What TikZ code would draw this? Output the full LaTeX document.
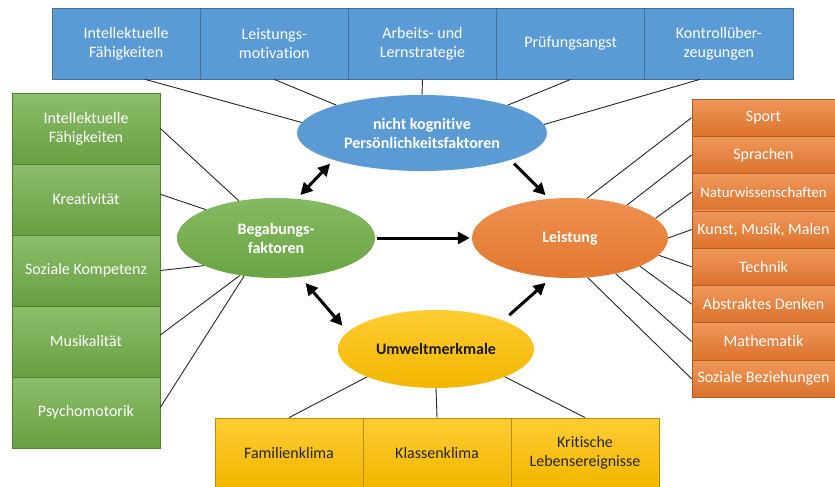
\documentclass[tikz,border=0pt]{standalone}
\usepackage{fontspec}
\setmainfont{Carlito}[Ligatures=NoCommon]
\usetikzlibrary{arrows.meta,shapes.geometric,positioning}

\definecolor{ppblue}{HTML}{5B9BD5}
\definecolor{ppblueline}{HTML}{41719C}
\definecolor{ppgreen}{HTML}{70AD47}
\definecolor{ppgreenline}{HTML}{507E32}
\definecolor{pporange}{HTML}{ED7D31}
\definecolor{pporangeline}{HTML}{AE5A21}
\definecolor{ppyellow}{HTML}{FFC000}
\definecolor{ppyellowline}{HTML}{BC8C00}

\tikzset{
  cell/.style={rectangle, line width=0.8pt, text=white, align=center, inner sep=1pt,
    font=\fontsize{16}{19}\selectfont},
  bluebox/.style={cell, draw=ppblueline, fill=ppblue, minimum width=148.2pt, minimum height=71pt},
  greenbox/.style={cell, draw=ppgreenline, top color=ppgreen!80!white, bottom color=ppgreen!92!black,
    minimum width=148pt, minimum height=71pt},
  orangebox/.style={cell, draw=pporangeline, top color=pporange!80!white, bottom color=pporange!92!black,
    minimum width=143pt, minimum height=37.3pt},
  yellowbox/.style={cell, draw=ppyellowline, text=black!85, top color=ppyellow!80!white,
    bottom color=ppyellow!95!black, minimum width=148pt, minimum height=69pt},
  factor/.style={ellipse, inner sep=0pt, align=center, text=white,
    font=\bfseries\fontsize{16}{19}\selectfont},
  link/.style={line width=0.9pt, black!85},
  bigarrow/.style={line width=3pt, shorten <=#1, shorten >=#1},
  bigarrow/.default=5pt
}

\begin{document}
\begin{tikzpicture}[x=1pt, y=-1pt, >={Triangle[length=12pt,width=12pt]}]

\useasboundingbox[fill=white] (0,0) rectangle (835,487);

% Faktoren in der Mitte
\node[factor, fill=ppblue, minimum width=250pt, minimum height=76pt] (nk) at (422,133)
  {nicht kognitive\\Persönlichkeitsfaktoren};
\node[factor, top color=ppgreen!85!white, bottom color=ppgreen!95!black,
  minimum width=198pt, minimum height=80pt] (bg) at (276,238) {Begabungs-\\faktoren};
\node[factor, top color=pporange!85!white, bottom color=pporange!95!black,
  minimum width=196pt, minimum height=80pt] (le) at (570,238) {Leistung};
\node[factor, text=black!90, top color=ppyellow!80!white, bottom color=ppyellow!95!black,
  minimum width=196pt, minimum height=78pt] (um) at (436,349) {Umweltmerkmale};

% oben: nicht kognitive Faktoren
\foreach \txt [count=\i] in {{Intellektuelle\\Fähigkeiten}, {Leistungs-\\motivation},
    {Arbeits- und\\Lernstrategie}, {Prüfungsangst}, {Kontrollüber-\\zeugungen}}
  \node[bluebox] (t\i) at ({126.1+148.2*(\i-1)}, 43.5) {\txt};

% links: Begabung
\foreach \txt [count=\i] in {{Intellektuelle\\Fähigkeiten}, {Kreativität},
    {Soziale Kompetenz}, {Musikalität}, {Psychomotorik}}
  \node[greenbox] (l\i) at (86, {128.5+71*(\i-1)}) {\txt};

% rechts: Leistungsbereiche
\foreach \txt [count=\i] in {{Sport}, {Sprachen},
    {\fontsize{14.8}{17}\selectfont Naturwissenschaften}, {Kunst, Musik, Malen},
    {Technik}, {Abstraktes Denken}, {Mathematik}, {Soziale Beziehungen}}
  \node[orangebox] (r\i) at (763.5, {117.65+37.3*(\i-1)}) {\txt};

% unten: Umwelt
\foreach \txt [count=\i] in {{Familienklima}, {Klassenklima}, {Kritische\\Lebensereignisse}}
  \node[yellowbox] (b\i) at ({289+148*(\i-1)}, 452.5) {\txt};

% Verbindungen
\draw[link] (t1.-62) -- (nk.175);
\draw[link] (t2.south) -- (nk.162);
\draw[link] (t3.south) -- (nk.north);
\draw[link] (t4.south) -- (nk.18);
\draw[link] (t5.-118) -- (nk.4);

\draw[link] (l1.east) -- (bg.135);
\draw[link] (l2.4) -- (bg.158);
\draw[link] (l3.east) -- (bg.201);
\draw[link] (l4.5) -- (bg.226);
\draw[link] (l5.4) -- (bg.230);

\draw[link] (r1.west) -- (le.67);
\draw[link] (r2.west) -- (le.30);
\draw[link] (r3.west) -- (le.13);
\draw[link] (r4.west) -- (le.east);
\draw[link] (r5.west) -- (le.-11);
\draw[link] (r6.west) -- (le.-22);
\draw[link] (r7.west) -- (le.-38);
\draw[link] (r8.west) -- (le.-66);

\draw[link] (b1.north) -- (um.202);
\draw[link] (b2.north) -- (um.south);
\draw[link] (b3.north) -- (um.-22);

% Wirkungspfeile
\draw[bigarrow, <->] (bg.62) -- (nk.197);
\draw[bigarrow, ->] (nk.-17) -- (le.118);
\draw[bigarrow=2pt, ->] (bg.east) -- (le.west);
\draw[bigarrow=8pt, <->] (bg.-58) -- (um.169);
\draw[bigarrow=8pt, ->] (um.23) -- (le.-115);

\end{tikzpicture}
\end{document}
